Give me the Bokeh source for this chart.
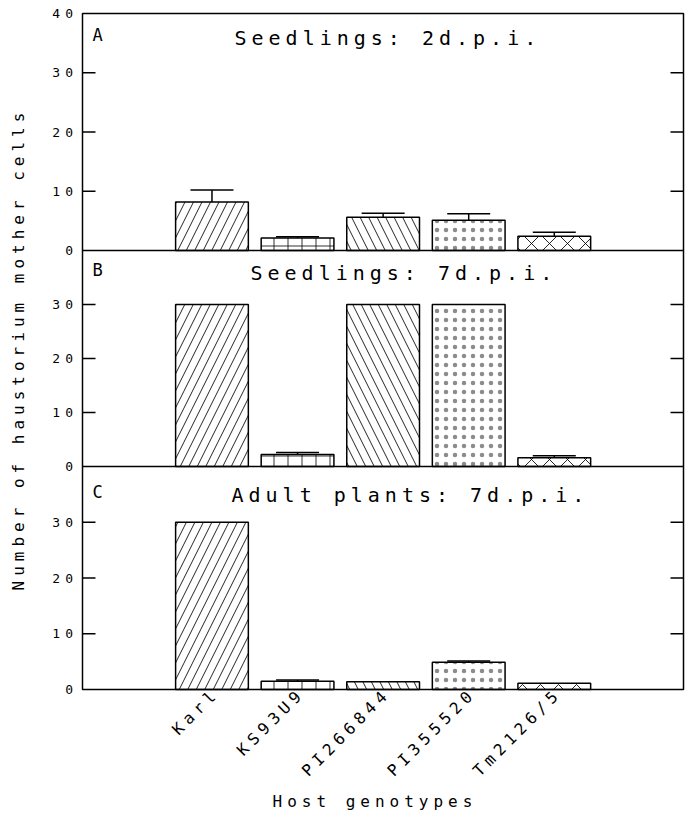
from math import pi, sqrt

from bokeh.core.properties import value
from bokeh.embed import file_html
from bokeh.models import (ColumnDataSource, InlineStyleSheet, Range1d, TeeHead, Whisker)
from bokeh.plotting import figure
from bokeh.resources import INLINE

# ---- data -------------------------------------------------------------
genotypes = ["Karl", "KS93U9", "PI266844", "PI355520", "Tm2126/5"]
x_pos = [1, 2, 3, 4, 5]

seedlings_2dpi = [8.2, 2.1, 5.6, 5.1, 2.4]
seedlings_2dpi_se = [2.0, 0.2, 0.7, 1.1, 0.7]

seedlings_7dpi = [30, 2.2, 30, 30, 1.6]
seedlings_7dpi_se = [0, 0.4, 0, 0, 0.4]

adult_7dpi = [30, 1.5, 1.4, 4.9, 1.1]
adult_7dpi_se = [0, 0.2, 0, 0.2, 0]

ticks_top_panel = [0, 10, 20, 30, 40]
ticks_lower_panels = [0, 10, 20, 30]

# ---- page layout and styling -------------------------------------------
MONO = "DejaVu Sans Mono"
SP = 5                      # letter spacing (px) of all lettering
hatch_patterns = ["/", "+", "\\", ".", "x"]
hatch_scales = [17, 14, 17, 9, 18]
hatch_weights = [1.0, 1.0, 1.0, 0.4, 1.0]
hatch_alphas = [0.85, 0.8, 0.85, 0.45, 0.85]

W, H = 690, 813
BOX_L, BOX_R, BOX_T, BOX_B = 82, 683, 13, 689      # boxed chart area (page px)
panel_rows = {"A": (13, 250), "B": (250, 466), "C": (466, 689)}  # (top, zero line)
YMAX = 40
XL, XR = -0.513, 6.51                              # category units across the box
ppx = (BOX_R - BOX_L) / (XR - XL)
TICK_LEN = 13 / ppx

# the frame fills the whole page; data ranges are stretched accordingly
x_range = Range1d(XL - BOX_L / ppx, XR + (W - BOX_R) / ppx)

p = figure(width=W, height=H, output_backend="svg", toolbar_location=None, title=None,
           x_range=x_range, y_range=Range1d(H, 0),
           x_axis_location=None, y_axis_location=None, min_border=0)
p.min_border_left = p.min_border_right = p.min_border_top = p.min_border_bottom = 0
p.outline_line_color = None
p.xgrid.visible = False
p.ygrid.visible = False
p.background_fill_color = "white"
p.border_fill_color = "white"
p.stylesheets = [InlineStyleSheet(css=f":host {{ letter-spacing: {SP}px; }}")]

ranges = {}
for key, (top_px, zero_px) in panel_rows.items():
    ppu = (zero_px - top_px) / YMAX
    ranges[key] = Range1d(-(H - zero_px) / ppu, YMAX + top_px / ppu)
p.extra_y_ranges = ranges
p.extra_x_ranges = {"page": Range1d(0, W)}

panel_ticks = {"A": ticks_top_panel, "B": ticks_lower_panels, "C": ticks_lower_panels}
panel_values = {"A": (seedlings_2dpi, seedlings_2dpi_se),
                "B": (seedlings_7dpi, seedlings_7dpi_se),
                "C": (adult_7dpi, adult_7dpi_se)}
# heading text, left edge and mid-height (page px); letter top (page px)
headings = {"A": ("Seedlings: 2d.p.i.", 234, 37, 24),
            "B": ("Seedlings: 7d.p.i.", 250, 272, 259),
            "C": ("Adult plants: 7d.p.i.", 231, 494, 481)}

for key, (means, errs) in panel_values.items():
    bars = ColumnDataSource(dict(x=x_pos, top=means, hatch=hatch_patterns, scale=hatch_scales,
                                 hw=hatch_weights, ha=hatch_alphas))
    p.vbar(x="x", top="top", bottom=0, width=0.85, source=bars, y_range_name=key,
           fill_color="white", line_color="black", line_width=1.5,
           hatch_pattern="hatch", hatch_scale="scale", hatch_color="black",
           hatch_weight="hw", hatch_alpha="ha")

    # standard-error whiskers (only where an error was reported)
    ex = [x for x, e in zip(x_pos, errs) if e > 0]
    lo = [m for m, e in zip(means, errs) if e > 0]
    hi = [m + e for m, e in zip(means, errs) if e > 0]
    if ex:
        es = ColumnDataSource(dict(x=ex, lo=lo, hi=hi))
        p.add_layout(Whisker(source=es, base="x", lower="lo", upper="hi", y_range_name=key,
                             line_color="black", line_width=1.5, lower_head=None,
                             upper_head=TeeHead(size=43, line_color="black", line_width=1.5)))

    # baseline shared with the strip below
    if key != "C":
        p.segment(x0=[XL], x1=[XR], y0=[0], y1=[0], y_range_name=key,
                  line_color="black", line_width=1.5)

    # inward ticks on both sides of the box
    ticks = panel_ticks[key]
    inner = [t for t in ticks if 0 < t < YMAX]
    n = len(inner)
    p.segment(x0=[XL] * n, x1=[XL + TICK_LEN] * n, y0=inner, y1=inner,
              y_range_name=key, line_color="black", line_width=1.5)
    p.segment(x0=[XR - TICK_LEN] * n, x1=[XR] * n, y0=inner, y1=inner,
              y_range_name=key, line_color="black", line_width=1.5)

    # tick labels, right edge 9.5 px left of the box (spacing compensated)
    labels = [str(t) for t in ticks]
    tl = ColumnDataSource(dict(x=[XL] * len(ticks), y=ticks, text=labels,
                               xo=[-9.5 - (len(s) - 1) * SP for s in labels]))
    p.text(x="x", y="y", text="text", x_offset="xo", source=tl, y_range_name=key,
           text_align="right", text_baseline="middle", text_font=value(MONO),
           text_font_size="13px", text_color="black")

    # panel letter and heading
    title, tx, ty, ly = headings[key]
    p.text(x=[92], y=[ly], text=[key], x_range_name="page", text_baseline="top",
           text_font=value(MONO), text_font_size="17px", text_color="black")
    p.text(x=[tx], y=[ty], text=[title], x_range_name="page", text_align="left",
           text_baseline="middle", text_font=value(MONO), text_font_size="20px",
           text_color="black")

# box round the three strips
p.quad(left=[BOX_L], right=[BOX_R], top=[BOX_T], bottom=[BOX_B], x_range_name="page",
       fill_color=None, line_color="black", line_width=1.5)

# slanted genotype names under the bars, ending at each bar's centre
c45 = sqrt(0.5)
gl = ColumnDataSource(dict(x=x_pos, y=[BOX_B - 2] * len(x_pos), text=genotypes,
                           xo=[-6 - (len(g) - 1) * SP * c45 for g in genotypes],
                           yo=[(len(g) - 1) * SP * c45 for g in genotypes]))
p.text(x="x", y="y", text="text", x_offset="xo", y_offset="yo", source=gl, angle=pi / 4,
       text_align="right", text_baseline="top", text_font=value(MONO),
       text_font_size="16px", text_color="black")

# axis titles
p.text(x=[272], y=[801], text=["Host genotypes"], x_range_name="page", text_align="left",
       text_baseline="middle", text_font=value(MONO), text_font_size="16px",
       text_color="black")
p.text(x=[18], y=[590], text=["Number of haustorium mother cells"], x_range_name="page",
       angle=pi / 2, text_align="left", text_baseline="middle", text_font=value(MONO),
       text_font_size="16px", text_color="black")

open("out.html", "w").write(file_html(p, INLINE))
